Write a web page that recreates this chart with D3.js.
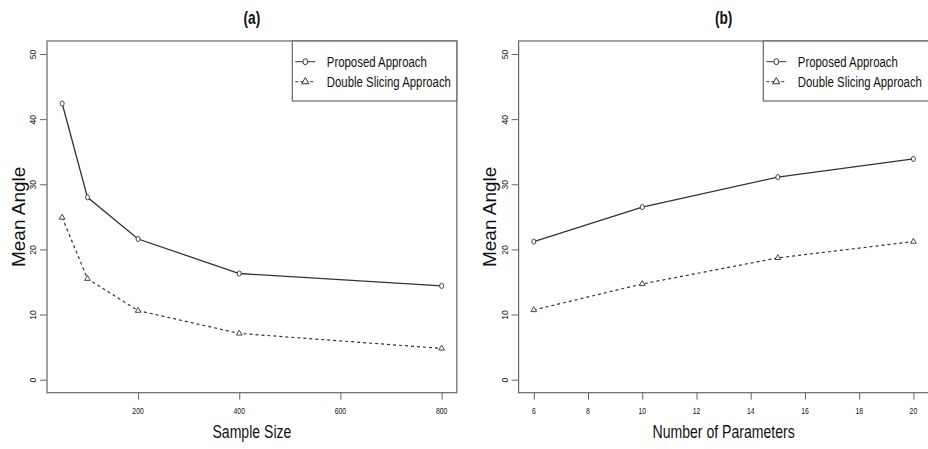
<!DOCTYPE html>
<html>
<head>
<meta charset="utf-8">
<script src="https://cdn.jsdelivr.net/npm/d3@7"></script>
<style>
  body { margin: 0; background: #fff; }
  text { font-family: "Liberation Sans", Arial, sans-serif; fill: #111; }
</style>
</head>
<body>
<div id="chart"></div>
<script>
// two R-style panels: mean angle vs sample size / number of parameters

var width = 928,
    height = 449;

var seriesNames = ["Proposed Approach", "Double Slicing Approach"];

// panel (a)
var sampleSize = [50, 100, 200, 400, 800];
var propA = [42.4, 28.0, 21.6, 16.3, 14.4];
var dsA = [24.9, 15.5, 10.6, 7.1, 4.8];
var xTicksA = [200, 400, 600, 800];

// panel (b)
var nParams = [6, 10, 15, 20];
var propB = [21.2, 26.5, 31.1, 33.9];
var dsB = [10.7, 14.7, 18.7, 21.2];
var xTicksB = [6, 8, 10, 12, 14, 16, 18, 20];

var yTicks = [0, 10, 20, 30, 40, 50];

var sx = 0.76;   // horizontal text looks squeezed in the original

var svg = d3.select("#chart").append("svg")
    .attr("width", width)
    .attr("height", height);

function squeezed(g, x, y, txt, size, weight) {
    return g.append("text")
        .attr("transform", "translate(" + x + "," + y + ") scale(" + sx + ",1)")
        .attr("text-anchor", "middle")
        .attr("dominant-baseline", "central")
        .style("font-size", size + "px")
        .style("font-weight", weight || "normal")
        .text(txt);
}

function panel(opts) {
    var g = svg.append("g");
    var left = opts.left, right = opts.right, top = 41, bottom = 392.7;

    // R pads the range by 4% each side
    var xd = d3.extent(opts.x), pad = (xd[1] - xd[0]) * 0.04;
    var x = d3.scaleLinear().domain([xd[0] - pad, xd[1] + pad]).range([left, right]);
    var y = d3.scaleLinear().domain([-2, 52]).range([bottom, top]);

    // box
    g.append("rect")
        .attr("x", left).attr("y", top)
        .attr("width", right - left).attr("height", bottom - top)
        .attr("fill", "none").attr("stroke", "#666").attr("stroke-width", 1.2);

    // x axis
    var xa = g.append("g")
        .attr("transform", "translate(0," + bottom + ")")
        .call(d3.axisBottom(x).tickValues(opts.xTicks).tickSize(7).tickFormat(d3.format("d")));
    xa.select(".domain").remove();
    xa.selectAll(".tick line").attr("stroke", "#666");
    xa.selectAll(".tick text").remove();
    opts.xTicks.forEach(function(t) {
        squeezed(g, x(t), 411, t, 9);
    });

    // y axis, labels parallel to the axis like R
    var ya = g.append("g")
        .attr("transform", "translate(" + left + ",0)")
        .call(d3.axisLeft(y).tickValues(yTicks).tickSize(7));
    ya.select(".domain").remove();
    ya.selectAll(".tick line").attr("stroke", "#666");
    ya.selectAll(".tick text")
        .attr("x", null).attr("dy", null)
        .attr("transform", "translate(-14,0) rotate(-90)")
        .attr("text-anchor", "middle")
        .attr("dominant-baseline", "central")
        .style("font-size", "8.5px")
        .style("font-family", "'Liberation Sans', Arial, sans-serif")
        .attr("fill", "#222");

    // titles
    squeezed(g, (left + right) / 2, 18, opts.title, 18, "bold");
    squeezed(g, (left + right) / 2, 431, opts.xlab, 18.5);
    g.append("text")
        .attr("transform", "translate(" + opts.ylabX + "," + ((top + bottom) / 2) + ") rotate(-90)")
        .attr("text-anchor", "middle")
        .attr("dominant-baseline", "central")
        .style("font-size", "19px")
        .text("Mean Angle");

    var line = d3.line()
        .x(function(d) { return x(d[0]); })
        .y(function(d) { return y(d[1]); });

    var p1 = opts.x.map(function(v, i) { return [v, opts.prop[i]]; });
    var p2 = opts.x.map(function(v, i) { return [v, opts.ds[i]]; });

    g.append("path").datum(p1)
        .attr("d", line).attr("fill", "none")
        .attr("stroke", "#333").attr("stroke-width", 1.3);
    g.append("path").datum(p2)
        .attr("d", line).attr("fill", "none")
        .attr("stroke", "#333").attr("stroke-width", 1.2)
        .attr("stroke-dasharray", "3,3");

    var tri = d3.symbol().type(d3.symbolTriangle).size(14);

    g.selectAll(".pt1").data(p1).enter()
        .append("ellipse")
        .attr("cx", function(d) { return x(d[0]); })
        .attr("cy", function(d) { return y(d[1]); })
        .attr("rx", 2).attr("ry", 2.6)
        .attr("fill", "#fff").attr("stroke", "#333").attr("stroke-width", 0.9);

    g.selectAll(".pt2").data(p2).enter()
        .append("path")
        .attr("d", tri)
        .attr("transform", function(d) { return "translate(" + x(d[0]) + "," + y(d[1]) + ")"; })
        .attr("fill", "#fff").attr("stroke", "#333").attr("stroke-width", 0.9);

    // legend box sits in the top right corner
    var lg = g.append("g");
    lg.append("rect")
        .attr("x", opts.legX).attr("y", top)
        .attr("width", right - opts.legX).attr("height", 60)
        .attr("fill", "#fff").attr("stroke", "#666").attr("stroke-width", 1.2);

    seriesNames.forEach(function(name, i) {
        var ly = 61.7 + i * 20;
        lg.append("line")
            .attr("x1", opts.legX + 3).attr("x2", opts.legX + 23)
            .attr("y1", ly).attr("y2", ly)
            .attr("stroke", "#333").attr("stroke-width", 1)
            .attr("stroke-dasharray", i == 1 ? "3,2" : null);
        if (i == 0) {
            lg.append("ellipse")
                .attr("cx", opts.legX + 13).attr("cy", ly)
                .attr("rx", 2.4).attr("ry", 3)
                .attr("fill", "#fff").attr("stroke", "#333");
        } else {
            lg.append("path")
                .attr("d", d3.symbol().type(d3.symbolTriangle).size(22))
                .attr("transform", "translate(" + (opts.legX + 13) + "," + ly + ")")
                .attr("fill", "#fff").attr("stroke", "#333");
        }
        lg.append("text")
            .attr("transform", "translate(" + (opts.legX + 34.5) + "," + ly + ") scale(" + sx + ",1)")
            .attr("dominant-baseline", "central")
            .style("font-size", "15px")
            .text(name);
    });
}

panel({
    left: 47, right: 456.8, title: "(a)", xlab: "Sample Size", ylabX: 18,
    x: sampleSize, prop: propA, ds: dsA, xTicks: xTicksA, legX: 292.3
});

panel({
    left: 518.6, right: 928.6, title: "(b)", xlab: "Number of Parameters", ylabX: 489,
    x: nParams, prop: propB, ds: dsB, xTicks: xTicksB, legX: 763.3
});
</script>
</body>
</html>
